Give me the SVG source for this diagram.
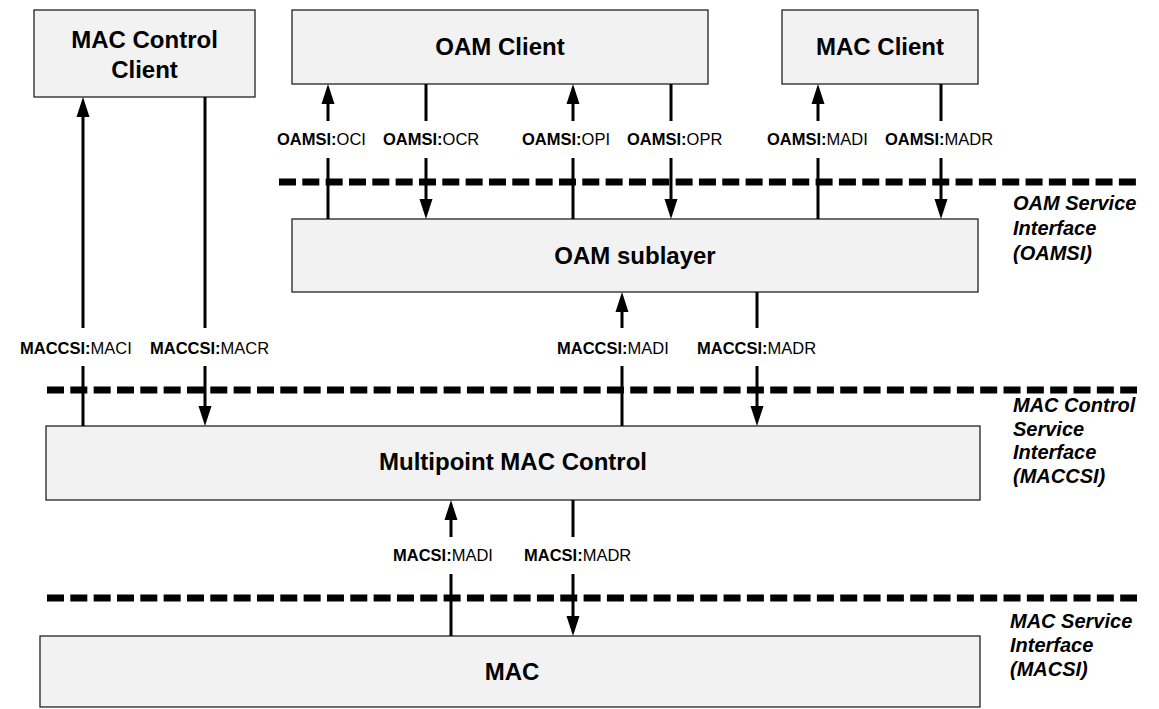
<svg xmlns="http://www.w3.org/2000/svg" width="1159" height="709" viewBox="0 0 1159 709">
<style>
.box{fill:#f2f2f2;stroke:#222;stroke-width:1.3}
.title{font-family:"Liberation Sans",Arial,sans-serif;font-size:24px;font-weight:bold;fill:#000}
.lbl{font-family:"Liberation Sans",Arial,sans-serif;font-size:16.5px;fill:#000}
.lbl .b{font-weight:bold}
.side{font-family:"Liberation Sans",Arial,sans-serif;font-size:20px;font-weight:bold;font-style:italic;fill:#000}
.dash{stroke:#000;stroke-width:7;stroke-dasharray:17 6.33;fill:none}
.sig{stroke:#000;stroke-width:3;fill:none}
.arr{stroke:#000;stroke-width:3;fill:none;marker-end:url(#ah)}
</style>
<defs>
<marker id="ah" markerUnits="userSpaceOnUse" markerWidth="20" markerHeight="14" refX="14" refY="6.5" orient="auto" viewBox="0 0 20 13">
<path d="M0,0 L20,6.5 L0,13 z" fill="#000"/>
</marker>
</defs>

<g id="interfaces">
<line class="dash" x1="279" y1="182" x2="1136" y2="182"/>
<line class="dash" x1="47" y1="390" x2="1137" y2="390"/>
<line class="dash" x1="47" y1="598" x2="1137" y2="598"/>
<g id="oamsi-label"><text class="side" x="1013" y="210">OAM Service</text><text class="side" x="1013" y="235">Interface</text><text class="side" x="1013" y="260">(OAMSI)</text></g>
<g id="maccsi-label"><text class="side" x="1013" y="412">MAC Control</text><text class="side" x="1013" y="436">Service</text><text class="side" x="1013" y="459">Interface</text><text class="side" x="1013" y="483">(MACCSI)</text></g>
<g id="macsi-label"><text class="side" x="1010" y="628">MAC Service</text><text class="side" x="1010" y="652">Interface</text><text class="side" x="1010" y="676">(MACSI)</text></g>
</g>

<g id="mac-control-client">
<rect class="box" x="34" y="10" width="221" height="87"/>
<text class="title" x="144.5" y="48" text-anchor="middle">MAC Control</text>
<text class="title" x="144.5" y="78" text-anchor="middle">Client</text>
</g>
<g id="oam-client">
<rect class="box" x="292" y="10" width="416" height="74"/>
<text class="title" x="500" y="55" text-anchor="middle">OAM Client</text>
</g>
<g id="mac-client">
<rect class="box" x="782" y="10" width="196" height="74"/>
<text class="title" x="880" y="55" text-anchor="middle">MAC Client</text>
</g>
<g id="oam-sublayer">
<rect class="box" x="292" y="219" width="686" height="73"/>
<text class="title" x="635" y="264" text-anchor="middle">OAM sublayer</text>
</g>
<g id="multipoint-mac-control">
<rect class="box" x="46" y="426" width="934" height="74"/>
<text class="title" x="513" y="470" text-anchor="middle">Multipoint MAC Control</text>
</g>
<g id="mac">
<rect class="box" x="40" y="636" width="940" height="71"/>
<text class="title" x="512" y="680" text-anchor="middle">MAC</text>
</g>

<g id="connectors">
<!-- OAMSI -->
<line class="arr" x1="328" y1="121" x2="328" y2="90"/><line class="sig" x1="328" y1="158" x2="328" y2="219"/>
<line class="sig" x1="426" y1="84" x2="426" y2="121"/><line class="arr" x1="426" y1="158" x2="426" y2="213"/>
<line class="arr" x1="573" y1="121" x2="573" y2="90"/><line class="sig" x1="573" y1="158" x2="573" y2="219"/>
<line class="sig" x1="671" y1="84" x2="671" y2="121"/><line class="arr" x1="671" y1="158" x2="671" y2="213"/>
<line class="arr" x1="818" y1="121" x2="818" y2="90"/><line class="sig" x1="818" y1="158" x2="818" y2="219"/>
<line class="sig" x1="941" y1="84" x2="941" y2="121"/><line class="arr" x1="941" y1="158" x2="941" y2="213"/>
<!-- MACCSI -->
<line class="arr" x1="83" y1="328" x2="83" y2="103"/><line class="sig" x1="83" y1="366" x2="83" y2="426"/>
<line class="sig" x1="205" y1="97" x2="205" y2="328"/><line class="arr" x1="205" y1="366" x2="205" y2="420"/>
<line class="arr" x1="622" y1="328" x2="622" y2="298"/><line class="sig" x1="622" y1="366" x2="622" y2="426"/>
<line class="sig" x1="757" y1="292" x2="757" y2="328"/><line class="arr" x1="757" y1="366" x2="757" y2="420"/>
<!-- MACSI -->
<line class="arr" x1="451" y1="537" x2="451" y2="506"/><line class="sig" x1="451" y1="574" x2="451" y2="636"/>
<line class="sig" x1="573" y1="500" x2="573" y2="537"/><line class="arr" x1="573" y1="574" x2="573" y2="630"/>

<text class="lbl" x="277" y="145"><tspan class="b">OAMSI:</tspan>OCI</text>
<text class="lbl" x="383" y="145"><tspan class="b">OAMSI:</tspan>OCR</text>
<text class="lbl" x="522" y="145"><tspan class="b">OAMSI:</tspan>OPI</text>
<text class="lbl" x="627" y="145"><tspan class="b">OAMSI:</tspan>OPR</text>
<text class="lbl" x="767" y="145"><tspan class="b">OAMSI:</tspan>MADI</text>
<text class="lbl" x="885" y="145"><tspan class="b">OAMSI:</tspan>MADR</text>
<text class="lbl" x="20" y="354"><tspan class="b">MACCSI:</tspan>MACI</text>
<text class="lbl" x="150" y="354"><tspan class="b">MACCSI:</tspan>MACR</text>
<text class="lbl" x="557" y="354"><tspan class="b">MACCSI:</tspan>MADI</text>
<text class="lbl" x="697" y="354"><tspan class="b">MACCSI:</tspan>MADR</text>
<text class="lbl" x="393" y="561"><tspan class="b">MACSI:</tspan>MADI</text>
<text class="lbl" x="524" y="561"><tspan class="b">MACSI:</tspan>MADR</text>
</g>
</svg>
